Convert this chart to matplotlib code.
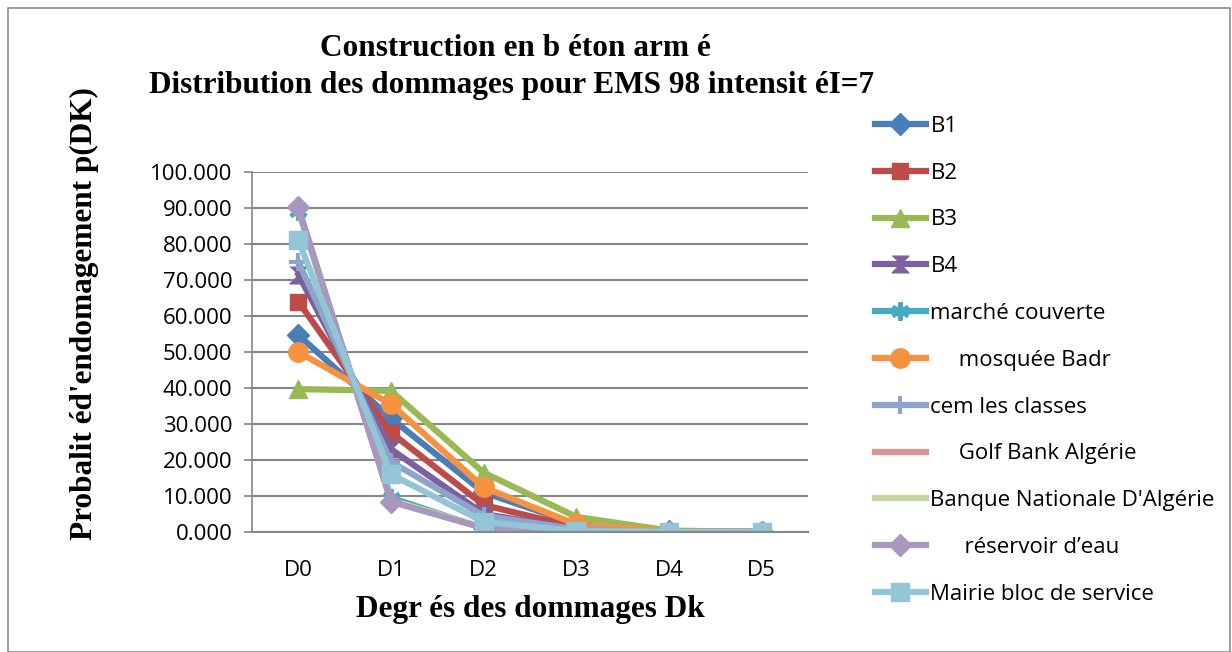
import numpy as np
import matplotlib.pyplot as plt
from matplotlib.patches import Rectangle

# degrés de dommage
cats = ['D0', 'D1', 'D2', 'D3', 'D4', 'D5']

# probabilités (%)
b1 = [54.7, 31.6, 11.0, 2.2, 0.2, 0.0]
b2 = [64.0, 27.6, 7.5, 1.3, 0.1, 0.0]
b3 = [39.7, 39.2, 16.5, 4.2, 0.4, 0.0]
b4 = [71.5, 23.0, 5.0, 0.8, 0.0, 0.0]
marche = [89.3, 9.5, 1.0, 0.2, 0.0, 0.0]
mosquee = [50.0, 35.5, 12.4, 2.1, 0.1, 0.0]
cem = [75.0, 19.5, 4.5, 0.8, 0.0, 0.0]
golf = [89.8, 8.8, 1.2, 0.2, 0.0, 0.0]
banque = [89.8, 8.8, 1.2, 0.2, 0.0, 0.0]
reservoir = [90.2, 8.4, 1.1, 0.2, 0.0, 0.0]
mairie = [81.0, 16.0, 2.8, 0.3, 0.0, 0.0]

labels = ['B1', 'B2', 'B3', 'B4', 'marché couverte', '     mosquée Badr',
          'cem les classes', '     Golf Bank Algérie', 'Banque Nationale D\'Algérie',
          '      réservoir d’eau', 'Mairie bloc de service']
series = [b1, b2, b3, b4, marche, mosquee, cem, golf, banque, reservoir, mairie]

colors = ['#4A7EBB', '#BE4B48', '#98B954', '#7D60A0', '#46AAC5', '#F69240',
          '#8EA5CB', '#D99694', '#C3D69B', '#A897BE', '#92C5D5']
hourglass = [(-1, 1), (1, 1), (0, 0), (1, -1), (-1, -1), (0, 0)]
markers = ['D', 's', '^', hourglass, (6, 2, 0), 'o', '+', 'None', 'None', 'D', 's']
msizes = [11, 12, 13, 12, 13, 14, 13, 0, 0, 11, 13]

plt.rcParams['font.family'] = ['Open Sans', 'DejaVu Sans']

fig = plt.figure(figsize=(12.32, 6.52), dpi=100)
fig.patches.append(Rectangle((8 / 1232, 0), 1 - 10 / 1232, 1 - 8 / 652,
                             transform=fig.transFigure, fill=False,
                             edgecolor='#8c8c8c', lw=1.2))

ax = fig.add_axes([252 / 1232, 1 - 532 / 652, 556 / 1232, 360 / 652])
x = np.arange(len(cats))
for s, lab, c, m, ms in zip(series, labels, colors, markers, msizes):
    mew = 3 if m in ('+', (6, 2, 0)) else 1
    ax.plot(x, s, color=c, lw=4.5, marker=m, markersize=ms, label=lab,
            markeredgecolor=c, markeredgewidth=mew, solid_joinstyle='round')

ax.set_xlim(-0.5, 5.5)
ax.set_ylim(0, 100)
ax.set_xticks(x)
ax.set_xticklabels(cats)
ax.set_yticks(np.arange(0, 101, 10))
ax.set_yticklabels(['%.3f' % v for v in np.arange(0, 101, 10)])
ax.tick_params(axis='y', labelsize=16, length=6, color='#868686', width=1.2, pad=8)
ax.tick_params(axis='x', labelsize=16, length=0, pad=20)
ax.grid(axis='y', color='#868686', lw=1.5)
ax.set_axisbelow(True)
for sp in ['top', 'right']:
    ax.spines[sp].set_visible(False)
ax.spines['left'].set_color('#868686')
ax.spines['bottom'].set_color('#868686')
ax.spines['left'].set_linewidth(1.2)
ax.spines['bottom'].set_linewidth(1.5)

serif = ['Liberation Serif', 'DejaVu Serif']
fig.text(515 / 1232, 1 - 49 / 652, 'Construction en b éton arm é', ha='center', va='center',
         fontsize=22.5, fontweight='bold', family=serif)
fig.text(512 / 1232, 1 - 85 / 652, 'Distribution des dommages pour EMS 98 intensit éI=7',
         ha='center', va='center', fontsize=22.5, fontweight='bold', family=serif)
fig.text(530 / 1232, 1 - 610 / 652, 'Degr és des dommages Dk', ha='center', va='center',
         fontsize=22.5, fontweight='bold', family=serif)
fig.text(84 / 1232, 1 - 314 / 652, "Probalit éd'endomagement p(DK)", ha='center', va='center',
         rotation=90, fontsize=22.5, fontweight='bold', family=serif)

fig.legend(loc='upper left', bbox_to_anchor=(866 / 1232, 1 - 107 / 652), frameon=False,
           fontsize=16, handlelength=2.3, handletextpad=0.2, labelspacing=1.16,
           borderaxespad=0)

fig.savefig('out.png', dpi=100)
